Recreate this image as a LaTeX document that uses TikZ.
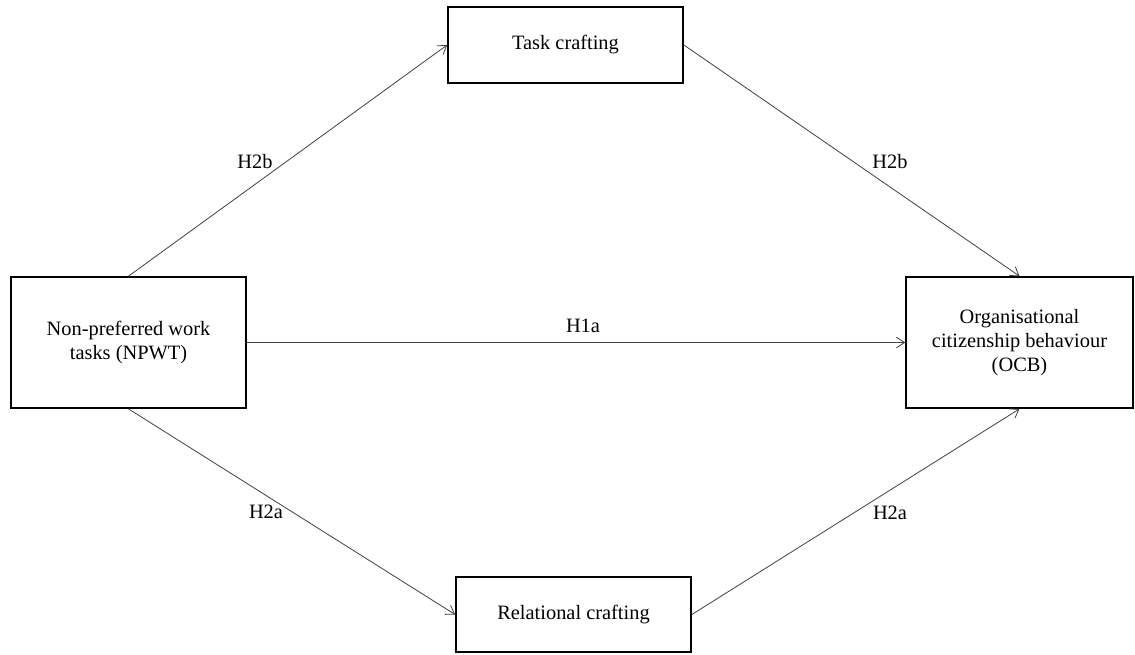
\documentclass[tikz,border=0pt]{standalone}
\usepackage{fontspec}
\setmainfont{Liberation Serif}
\usetikzlibrary{arrows.meta}
\begin{document}
\begin{tikzpicture}[x=0.75pt,y=-0.75pt,
  box/.style args={#1/#2}{draw=black, line width=1.3pt, fill=white, inner sep=0pt,
    minimum width=#1*0.75pt, minimum height=#2*0.75pt, align=center,
    font=\fontsize{15.3}{18}\selectfont},
  conn/.style={draw=black!75, line width=0.6pt, -{Straight Barb[length=6pt,width=8pt]}},
  lbl/.style={font=\fontsize{15.3}{18}\selectfont, inner sep=0pt}]
\useasboundingbox (0,0) rectangle (1135,654);
\node[box=235/131] (npwt) at (128.5,342.5) {Non-preferred work\\tasks (NPWT)};
\node[box=235/76] (task) at (565.5,45) {Task crafting};
\node[box=235/75] (rel) at (573.5,614.5) {Relational crafting};
\node[box=227/131] (ocb) at (1019.5,342.5) {Organisational\\citizenship behaviour\\(OCB)};
\draw[conn] (npwt.north) -- (task.west);
\draw[conn] (task.east) -- (ocb.north);
\draw[conn] (npwt.east) -- (ocb.west);
\draw[conn] (npwt.south) -- (rel.west);
\draw[conn] (rel.east) -- (ocb.south);
\node[lbl] (l1) at (255,162) {H2b};
\node[lbl] (l2) at (890,162) {H2b};
\node[lbl] (l3) at (583,326) {H1a};
\node[lbl] (l4) at (266,512) {H2a};
\node[lbl] (l5) at (890,513) {H2a};
\end{tikzpicture}
\end{document}
